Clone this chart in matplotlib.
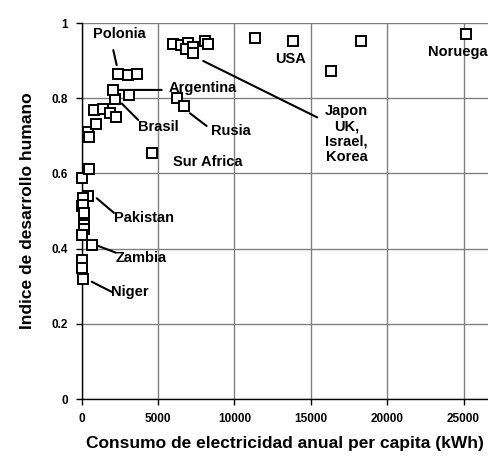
import matplotlib
matplotlib.use("Agg")
import matplotlib.pyplot as plt

# Data: electricity consumption per capita (kWh) vs HDI
consumo = [50, 480, 390, 105, 0, 65, 150, 150, 150, 40, 655, 0, 0, 105,
           435, 455, 935, 825, 1375, 1850, 2245, 2200, 2070, 3115,
           2395, 3010, 3640, 4620, 6215, 6715,
           5955, 6500, 6975, 6825, 7265, 7305, 8090, 8285,
           11360, 13850, 16315, 18260, 25150]
idh = [0.588, 0.613, 0.540, 0.534, 0.513, 0.516, 0.495, 0.463, 0.451, 0.437, 0.410, 0.371, 0.348, 0.318,
       0.711, 0.696, 0.731, 0.769, 0.770, 0.760, 0.751, 0.797, 0.822, 0.808,
       0.864, 0.862, 0.864, 0.653, 0.801, 0.779,
       0.943, 0.941, 0.948, 0.930, 0.937, 0.919, 0.953, 0.943,
       0.961, 0.952, 0.872, 0.952, 0.970]

x_ticks = [0, 5000, 10000, 15000, 20000, 25000]
y_ticks = [0, 0.2, 0.4, 0.6, 0.8, 1.0]
y_ticklabels = ["0", "0.2", "0.4", "0.6", "0.8", "1"]

plt.rcParams['font.family'] = ['Liberation Sans', 'DejaVu Sans']

fig = plt.figure(figsize=(4.88, 4.58), dpi=100)
ax = fig.add_axes([81.7 / 488, 1 - 399 / 458, 1 - 81.7 / 488, (399 - 23) / 458])

ax.set_xlim(0, 26600)
ax.set_ylim(0, 1)
ax.set_xticks(x_ticks)
ax.set_xticklabels([str(t) for t in x_ticks])
ax.set_yticks(y_ticks)
ax.set_yticklabels(y_ticklabels)
ax.grid(True, color='#808080', linewidth=1.0)
ax.set_axisbelow(True)
for s in ['top', 'right']:
    ax.spines[s].set_visible(False)
for s in ['left', 'bottom']:
    ax.spines[s].set_color('black')
    ax.spines[s].set_linewidth(1.0)
    ax.spines[s].set_zorder(1.5)
ax.tick_params(axis='both', direction='out', length=4, width=1, labelsize=8.5, pad=6)
for lab in ax.get_xticklabels() + ax.get_yticklabels():
    lab.set_fontweight('bold')

ax.plot(consumo, idh, linestyle='none', marker='s', markersize=7.2,
        markerfacecolor='white', markeredgecolor='black', markeredgewidth=1.4,
        clip_on=False, zorder=3)

ax.set_xlabel('Consumo de electricidad anual per capita (kWh)', fontsize=12.5,
              fontweight='bold', labelpad=8)
ax.set_ylabel('Indice de desarrollo humano', fontsize=12.5, fontweight='bold', labelpad=12)

lbl = dict(fontsize=10.5, ha='center', va='center', zorder=4)
ax.text(2487, 0.971, 'Polonia', fontweight='bold', **lbl)
ax.text(7906, 0.826, 'Argentina', fontweight='bold', **lbl)
ax.text(4993, 0.723, 'Brasil', fontweight='bold', **lbl)
ax.text(9771, 0.713, 'Rusia', fontweight='bold', **lbl)
ax.text(8233, 0.630, 'Sur Africa', fontweight='bold', **lbl)
ax.text(13698, 0.904, 'USA', fontweight='bold', **lbl)
ax.text(17343, 0.705, 'Japon\nUK,\nIsrael,\nKorea', fontweight='bold', linespacing=1.1, **lbl)
ax.text(24627, 0.923, 'Noruega', fontweight='bold', **lbl)
ax.text(4058, 0.481, 'Pakistan', fontweight='bold', **lbl)
ax.text(3900, 0.376, 'Zambia', fontweight='bold', **lbl)
ax.text(3161, 0.285, 'Niger', fontweight='bold', **lbl)

leaders = [((2068, 0.928), (2290, 0.888)),
           ((2461, 0.822), (5236, 0.822)),
           ((2618, 0.786), (3704, 0.742)),
           ((7088, 0.760), (8181, 0.726)),
           ((7958, 0.899), (15419, 0.749)),
           ((982, 0.534), (2114, 0.495)),
           ((1086, 0.407), (2245, 0.389)),
           ((654, 0.312), (1963, 0.285))]
for a, b in leaders:
    ax.annotate('', xy=a, xytext=b,
                arrowprops=dict(arrowstyle='-', color='black', lw=1.5,
                                shrinkA=0, shrinkB=0))

fig.savefig('out.png', dpi=100)
